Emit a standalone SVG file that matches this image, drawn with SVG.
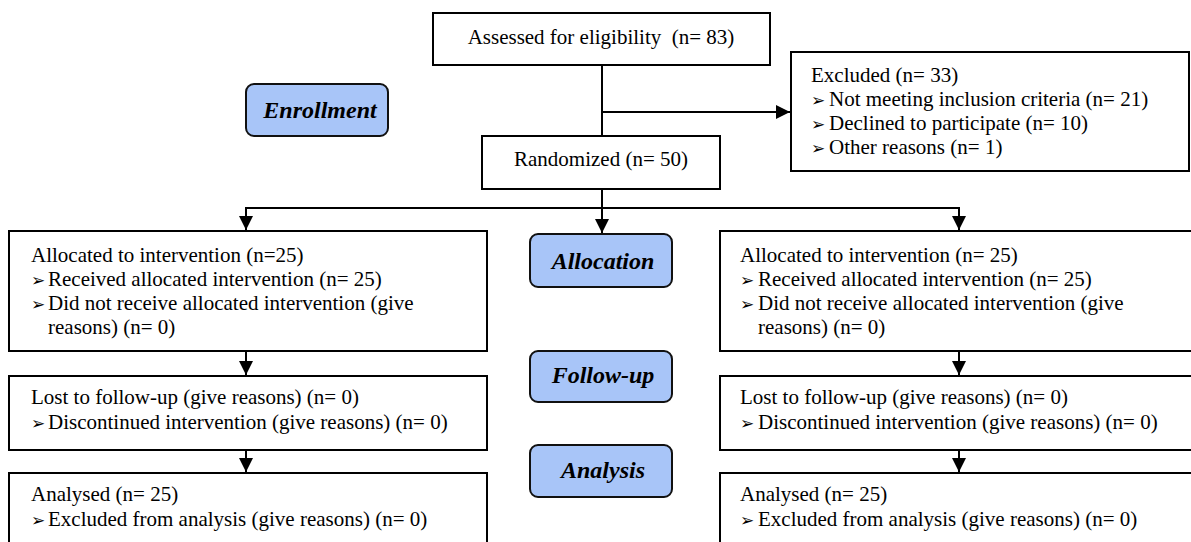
<svg xmlns="http://www.w3.org/2000/svg" width="1191" height="542" viewBox="0 0 1191 542">
<style>
.box{fill:#fff;stroke:#000;stroke-width:2}
.stage{fill:#a8c5f8;stroke:#111;stroke-width:2}
.t{font-family:'Liberation Serif','DejaVu Serif',serif;font-size:21px;fill:#000}
.c{text-anchor:middle}
.b{font-family:'DejaVu Sans',sans-serif;font-size:17px}
.s{font-family:'Liberation Serif','DejaVu Serif',serif;font-size:24px;font-weight:bold;font-style:italic;text-anchor:middle;fill:#000}
.ln{fill:none;stroke:#000;stroke-width:2}
</style>
<defs>
<marker id="ah" markerUnits="userSpaceOnUse" markerWidth="16" markerHeight="16" refX="14" refY="7" orient="auto">
<path d="M0,0 L14,7 L0,14 Z" fill="#000"/>
</marker>
</defs>
<rect width="1191" height="542" fill="#fff"/>
<g id="connectors">
<path class="ln" d="M602,65 V189"/>
<path class="ln" d="M602,112 H790" marker-end="url(#ah)"/>
<path class="ln" d="M602,189 V233" marker-end="url(#ah)"/>
<path class="ln" d="M246,208 H959"/>
<path class="ln" d="M246,207 V230" marker-end="url(#ah)"/>
<path class="ln" d="M959,207 V230" marker-end="url(#ah)"/>
<path class="ln" d="M246,351 V375" marker-end="url(#ah)"/>
<path class="ln" d="M246,450 V472" marker-end="url(#ah)"/>
<path class="ln" d="M959,351 V375" marker-end="url(#ah)"/>
<path class="ln" d="M959,450 V472" marker-end="url(#ah)"/>
</g>
<g id="assessed">
<rect class="box" x="433" y="13" width="337" height="52"/>
<text class="t c" x="601" y="44" xml:space="preserve">Assessed for eligibility  (n= 83)</text>
</g>
<g id="enrollment">
<rect class="stage" x="246" y="84" width="142" height="52" rx="8"/>
<text class="s" x="320" y="118">Enrollment</text>
</g>
<g id="excluded">
<rect class="box" x="791" y="52" width="398" height="119"/>
<text class="t" x="811" y="82">Excluded (n= 33)</text>
<text class="t b" x="811" y="106">➢</text><text class="t" x="829" y="106">Not meeting inclusion criteria (n= 21)</text>
<text class="t b" x="811" y="130">➢</text><text class="t" x="829" y="130">Declined to participate (n= 10)</text>
<text class="t b" x="811" y="154">➢</text><text class="t" x="829" y="154">Other reasons (n= 1)</text>
</g>
<g id="randomized">
<rect class="box" x="482" y="136" width="238" height="53"/>
<text class="t c" x="601" y="166">Randomized (n= 50)</text>
</g>
<g id="alloc-left">
<rect class="box" x="9" y="231" width="478" height="120"/>
<text class="t" x="31" y="262">Allocated to intervention (n=25)</text>
<text class="t b" x="31" y="286">➢</text><text class="t" x="48" y="286">Received allocated intervention (n= 25)</text>
<text class="t b" x="31" y="310">➢</text><text class="t" x="48" y="310">Did not receive allocated intervention (give</text>
<text class="t" x="48" y="334">reasons) (n= 0)</text>
</g>
<g id="allocation">
<rect class="stage" x="530" y="234" width="142" height="53" rx="8"/>
<text class="s" x="603" y="269">Allocation</text>
</g>
<g id="alloc-right">
<rect class="box" x="720" y="231" width="490" height="120"/>
<text class="t" x="740" y="262">Allocated to intervention (n= 25)</text>
<text class="t b" x="740" y="286">➢</text><text class="t" x="758" y="286">Received allocated intervention (n= 25)</text>
<text class="t b" x="740" y="310">➢</text><text class="t" x="758" y="310">Did not receive allocated intervention (give</text>
<text class="t" x="758" y="334">reasons) (n= 0)</text>
</g>
<g id="followup-left">
<rect class="box" x="9" y="376" width="478" height="74"/>
<text class="t" x="31" y="404">Lost to follow-up (give reasons) (n= 0)</text>
<text class="t b" x="31" y="429">➢</text><text class="t" x="48" y="429">Discontinued intervention (give reasons) (n= 0)</text>
</g>
<g id="followup">
<rect class="stage" x="530" y="351" width="142" height="51" rx="8"/>
<text class="s" x="603" y="383">Follow-up</text>
</g>
<g id="followup-right">
<rect class="box" x="720" y="376" width="490" height="74"/>
<text class="t" x="740" y="404">Lost to follow-up (give reasons) (n= 0)</text>
<text class="t b" x="740" y="429">➢</text><text class="t" x="758" y="429">Discontinued intervention (give reasons) (n= 0)</text>
</g>
<g id="analysis-left">
<rect class="box" x="9" y="473" width="478" height="90"/>
<text class="t" x="31" y="501">Analysed (n= 25)</text>
<text class="t b" x="31" y="526">➢</text><text class="t" x="48" y="526">Excluded from analysis (give reasons) (n= 0)</text>
</g>
<g id="analysis">
<rect class="stage" x="530" y="445" width="142" height="52" rx="8"/>
<text class="s" x="603" y="478">Analysis</text>
</g>
<g id="analysis-right">
<rect class="box" x="720" y="473" width="490" height="90"/>
<text class="t" x="740" y="501">Analysed (n= 25)</text>
<text class="t b" x="740" y="526">➢</text><text class="t" x="758" y="526">Excluded from analysis (give reasons) (n= 0)</text>
</g>
</svg>
